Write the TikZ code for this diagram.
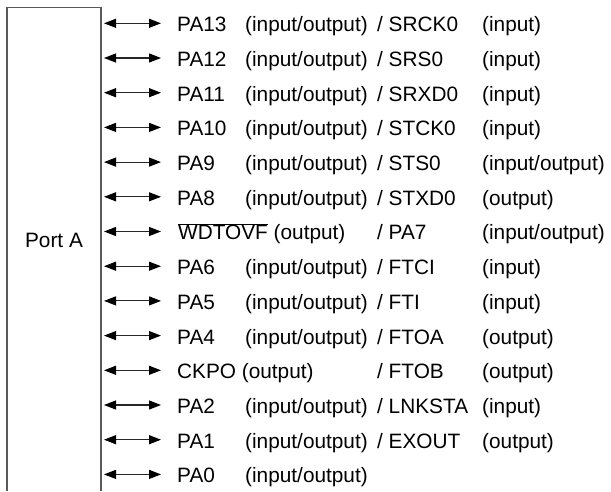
\documentclass[tikz,border=0pt]{standalone}
\usepackage{fontspec}
\setmainfont{Liberation Sans}
\usetikzlibrary{arrows.meta}
\tikzset{
  lbl/.style={inner sep=0pt, anchor=base west, font=\fontsize{20.8}{25}\selectfont},
  portlbl/.style={inner sep=0pt, anchor=base, font=\fontsize{20.8}{25}\selectfont},
  sig/.style={line width=1.1pt, draw=black!85, {Triangle[length=12pt,width=9pt,color=black,fill=black]}-{Triangle[length=12pt,width=9pt,color=black,fill=black]}},
  boxline/.style={line width=1.3pt, draw=black!65}
}
\begin{document}
\begin{tikzpicture}[x=1pt,y=-1pt]
\useasboundingbox (0,0) rectangle (611,491);
% port box (open at bottom)
\coordinate (bl) at (7,491);
\coordinate (tl) at (7,7.3);
\coordinate (tr) at (101,7.3);
\coordinate (br) at (101,491);
\draw[boxline] (bl) -- (tl) -- (tr) -- (br);
\node[portlbl] (port) at (54,247.3) {Port A};
% rows
\foreach \i/\a/\b/\c/\d in {
  0/PA13/(input\slash output)/\slash\ SRCK0/(input),
  1/PA12/(input\slash output)/\slash\ SRS0/(input),
  2/PA11/(input\slash output)/\slash\ SRXD0/(input),
  3/PA10/(input\slash output)/\slash\ STCK0/(input),
  4/PA9/(input\slash output)/\slash\ STS0/(input\slash output),
  5/PA8/(input\slash output)/\slash\ STXD0/(output),
  7/PA6/(input\slash output)/\slash\ FTCI/(input),
  8/PA5/(input\slash output)/\slash\ FTI/(input),
  9/PA4/(input\slash output)/\slash\ FTOA/(output),
  11/PA2/(input\slash output)/\slash\ LNKSTA/(input),
  12/PA1/(input\slash output)/\slash\ EXOUT/(output)}
{
  \pgfmathsetmacro{\yy}{23.3+34.7*\i}
  \pgfmathsetmacro{\yb}{\yy+8.4}
  \coordinate (s\i) at (104,\yy);
  \coordinate (e\i) at (161,\yy);
  \draw[sig] (s\i) -- (e\i);
  \node[lbl] (n\i a) at (177,\yb) {\a};
  \node[lbl] (n\i b) at (245,\yb) {\b};
  \node[lbl] (n\i c) at (377,\yb) {\c};
  \node[lbl] (n\i d) at (482,\yb) {\d};
}
% row 6: WDTOVF
\coordinate (s6) at (104,{23.3+34.7*6});
\coordinate (e6) at (161,{23.3+34.7*6});
\draw[sig] (s6) -- (e6);
\node[lbl] (n6a) at (178,{23.3+34.7*6+8.4}) {$\overline{\mbox{WDTOVF}}$ (output)};
\node[lbl] (n6c) at (377,{23.3+34.7*6+8.4}) {/ PA7};
\node[lbl] (n6d) at (482,{23.3+34.7*6+8.4}) {(input/output)};
% row 10: CKPO
\coordinate (s10) at (104,{23.3+34.7*10});
\coordinate (e10) at (161,{23.3+34.7*10});
\draw[sig] (s10) -- (e10);
\node[lbl] (n10a) at (177,{23.3+34.7*10+8.4}) {CKPO (output)};
\node[lbl] (n10c) at (377,{23.3+34.7*10+8.4}) {/ FTOB};
\node[lbl] (n10d) at (482,{23.3+34.7*10+8.4}) {(output)};
% row 13: PA0
\coordinate (s13) at (104,{23.3+34.7*13});
\coordinate (e13) at (161,{23.3+34.7*13});
\draw[sig] (s13) -- (e13);
\node[lbl] (n13a) at (177,{23.3+34.7*13+8.4}) {PA0};
\node[lbl] (n13b) at (245,{23.3+34.7*13+8.4}) {(input/output)};
\end{tikzpicture}
\end{document}
